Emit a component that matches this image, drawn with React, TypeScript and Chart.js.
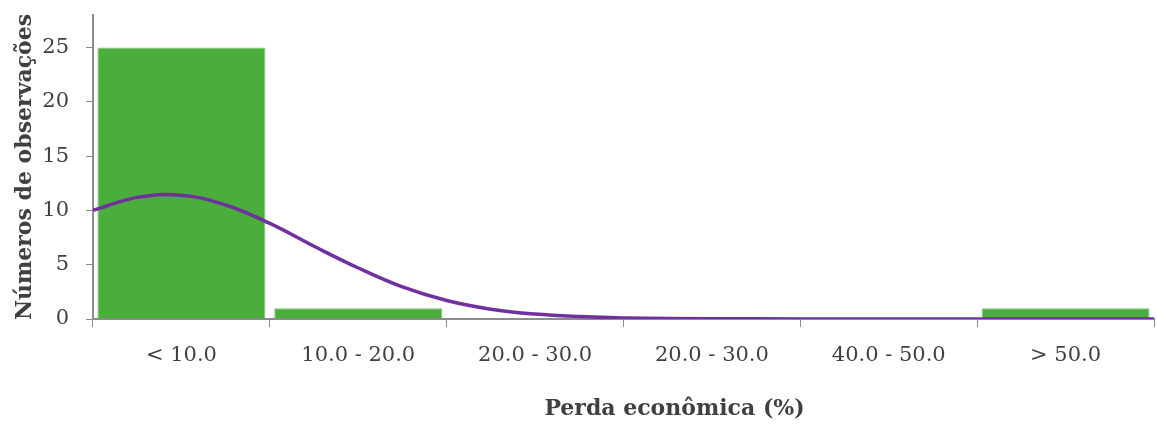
import React, { useEffect, useRef } from "react";
import { Chart, registerables } from "chart.js";

Chart.register(...registerables);

const categories = ["< 10.0", "10.0 - 20.0", "20.0 - 30.0", "20.0 - 30.0", "40.0 - 50.0", "> 50.0"];
const counts = [25, 1, 0, 0, 0, 1];
// Fitted curve: position in category units (0 = left edge, 6 = right edge)
const curveX = [0, 0.25, 0.5, 0.75, 1.0, 1.25, 1.5, 1.75, 2.0, 2.25, 2.5, 2.75, 3.0, 3.5, 4.0, 5.0, 6.0];
const curveY = [10.0, 11.2, 11.4, 10.5, 8.8, 6.7, 4.7, 2.95, 1.7, 0.9, 0.45, 0.22, 0.1, 0.03, 0.01, 0, 0];
const yTicks = [0, 5, 10, 15, 20, 25];
const xTitle = "Perda econômica (%)";
const yTitle = "Números de observações";

const FONT = "'DejaVu Serif', serif";
const TEXT = "#404040";
const AXIS = "#8c8c8c";

const xTitlePlugin = {
  id: "xTitleOffset",
  afterDraw(chart: any) {
    const { ctx, chartArea } = chart;
    ctx.save();
    ctx.font = `bold 22px ${FONT}`;
    ctx.fillStyle = TEXT;
    ctx.textAlign = "center";
    ctx.textBaseline = "middle";
    ctx.fillText(xTitle, (chartArea.left + chartArea.right) / 2 + 51, chart.height - 17);
    ctx.restore();
  },
};

export default function App() {
  const ref = useRef<HTMLCanvasElement | null>(null);
  useEffect(() => {
    if (!ref.current) return;
    const chart = new Chart(ref.current, {
      type: "bar",
      data: {
        labels: categories,
        datasets: [
          {
            type: "line",
            label: "curve",
            data: curveX.map((x, i) => ({ x, y: curveY[i] })),
            xAxisID: "x2",
            borderColor: "#7030a0",
            borderWidth: 3.5,
            pointRadius: 0,
            tension: 0.4,
            fill: false,
            order: 0,
          } as any,
          {
            type: "bar",
            label: "count",
            data: counts,
            xAxisID: "x",
            backgroundColor: "#4aad3c",
            borderColor: "#7cc870",
            borderWidth: 1,
            barPercentage: 0.95,
            categoryPercentage: 1,
            grouped: false,
            order: 1,
          } as any,
        ],
      },
      plugins: [xTitlePlugin],
      options: {
        animation: false,
        responsive: true,
        maintainAspectRatio: false,
        layout: { padding: { top: 15, right: 3, left: 0, bottom: 3 } },
        plugins: { legend: { display: false }, tooltip: { enabled: false } },
        scales: {
          x: {
            type: "category",
            offset: true,
            afterFit: (axis: any) => {
              axis.height = 104;
              axis.paddingLeft = 0;
              axis.paddingRight = 0;
            },
            grid: { display: true, drawOnChartArea: false, offset: true, tickLength: 8, color: AXIS, lineWidth: 1 },
            border: { color: AXIS, width: 2 },
            ticks: { color: TEXT, font: { family: FONT, size: 21 }, padding: 16, maxRotation: 0 },
            title: { display: false },
          },
          x2: { type: "linear", min: 0, max: 6, display: false, offset: false },
          y: {
            min: 0,
            max: 28,
            afterBuildTicks: (axis: any) => {
              axis.ticks = yTicks.map((v) => ({ value: v }));
            },
            afterFit: (axis: any) => {
              axis.width = 93;
              axis.paddingTop = 0;
              axis.paddingBottom = 0;
            },
            grid: { display: true, drawOnChartArea: false, tickLength: 7, color: AXIS },
            border: { color: AXIS, width: 2 },
            ticks: { color: TEXT, font: { family: FONT, size: 21 }, padding: 17 },
            title: { display: true, text: yTitle, color: TEXT, font: { family: FONT, size: 22, weight: "bold" }, padding: { top: 12, bottom: 0 } },
          },
        },
      },
    });
    return () => chart.destroy();
  }, []);
  return (
    <div style={{ position: "fixed", left: 0, top: 0, width: 1157, height: 426, background: "#fff" }}>
      <canvas ref={ref} />
    </div>
  );
}
